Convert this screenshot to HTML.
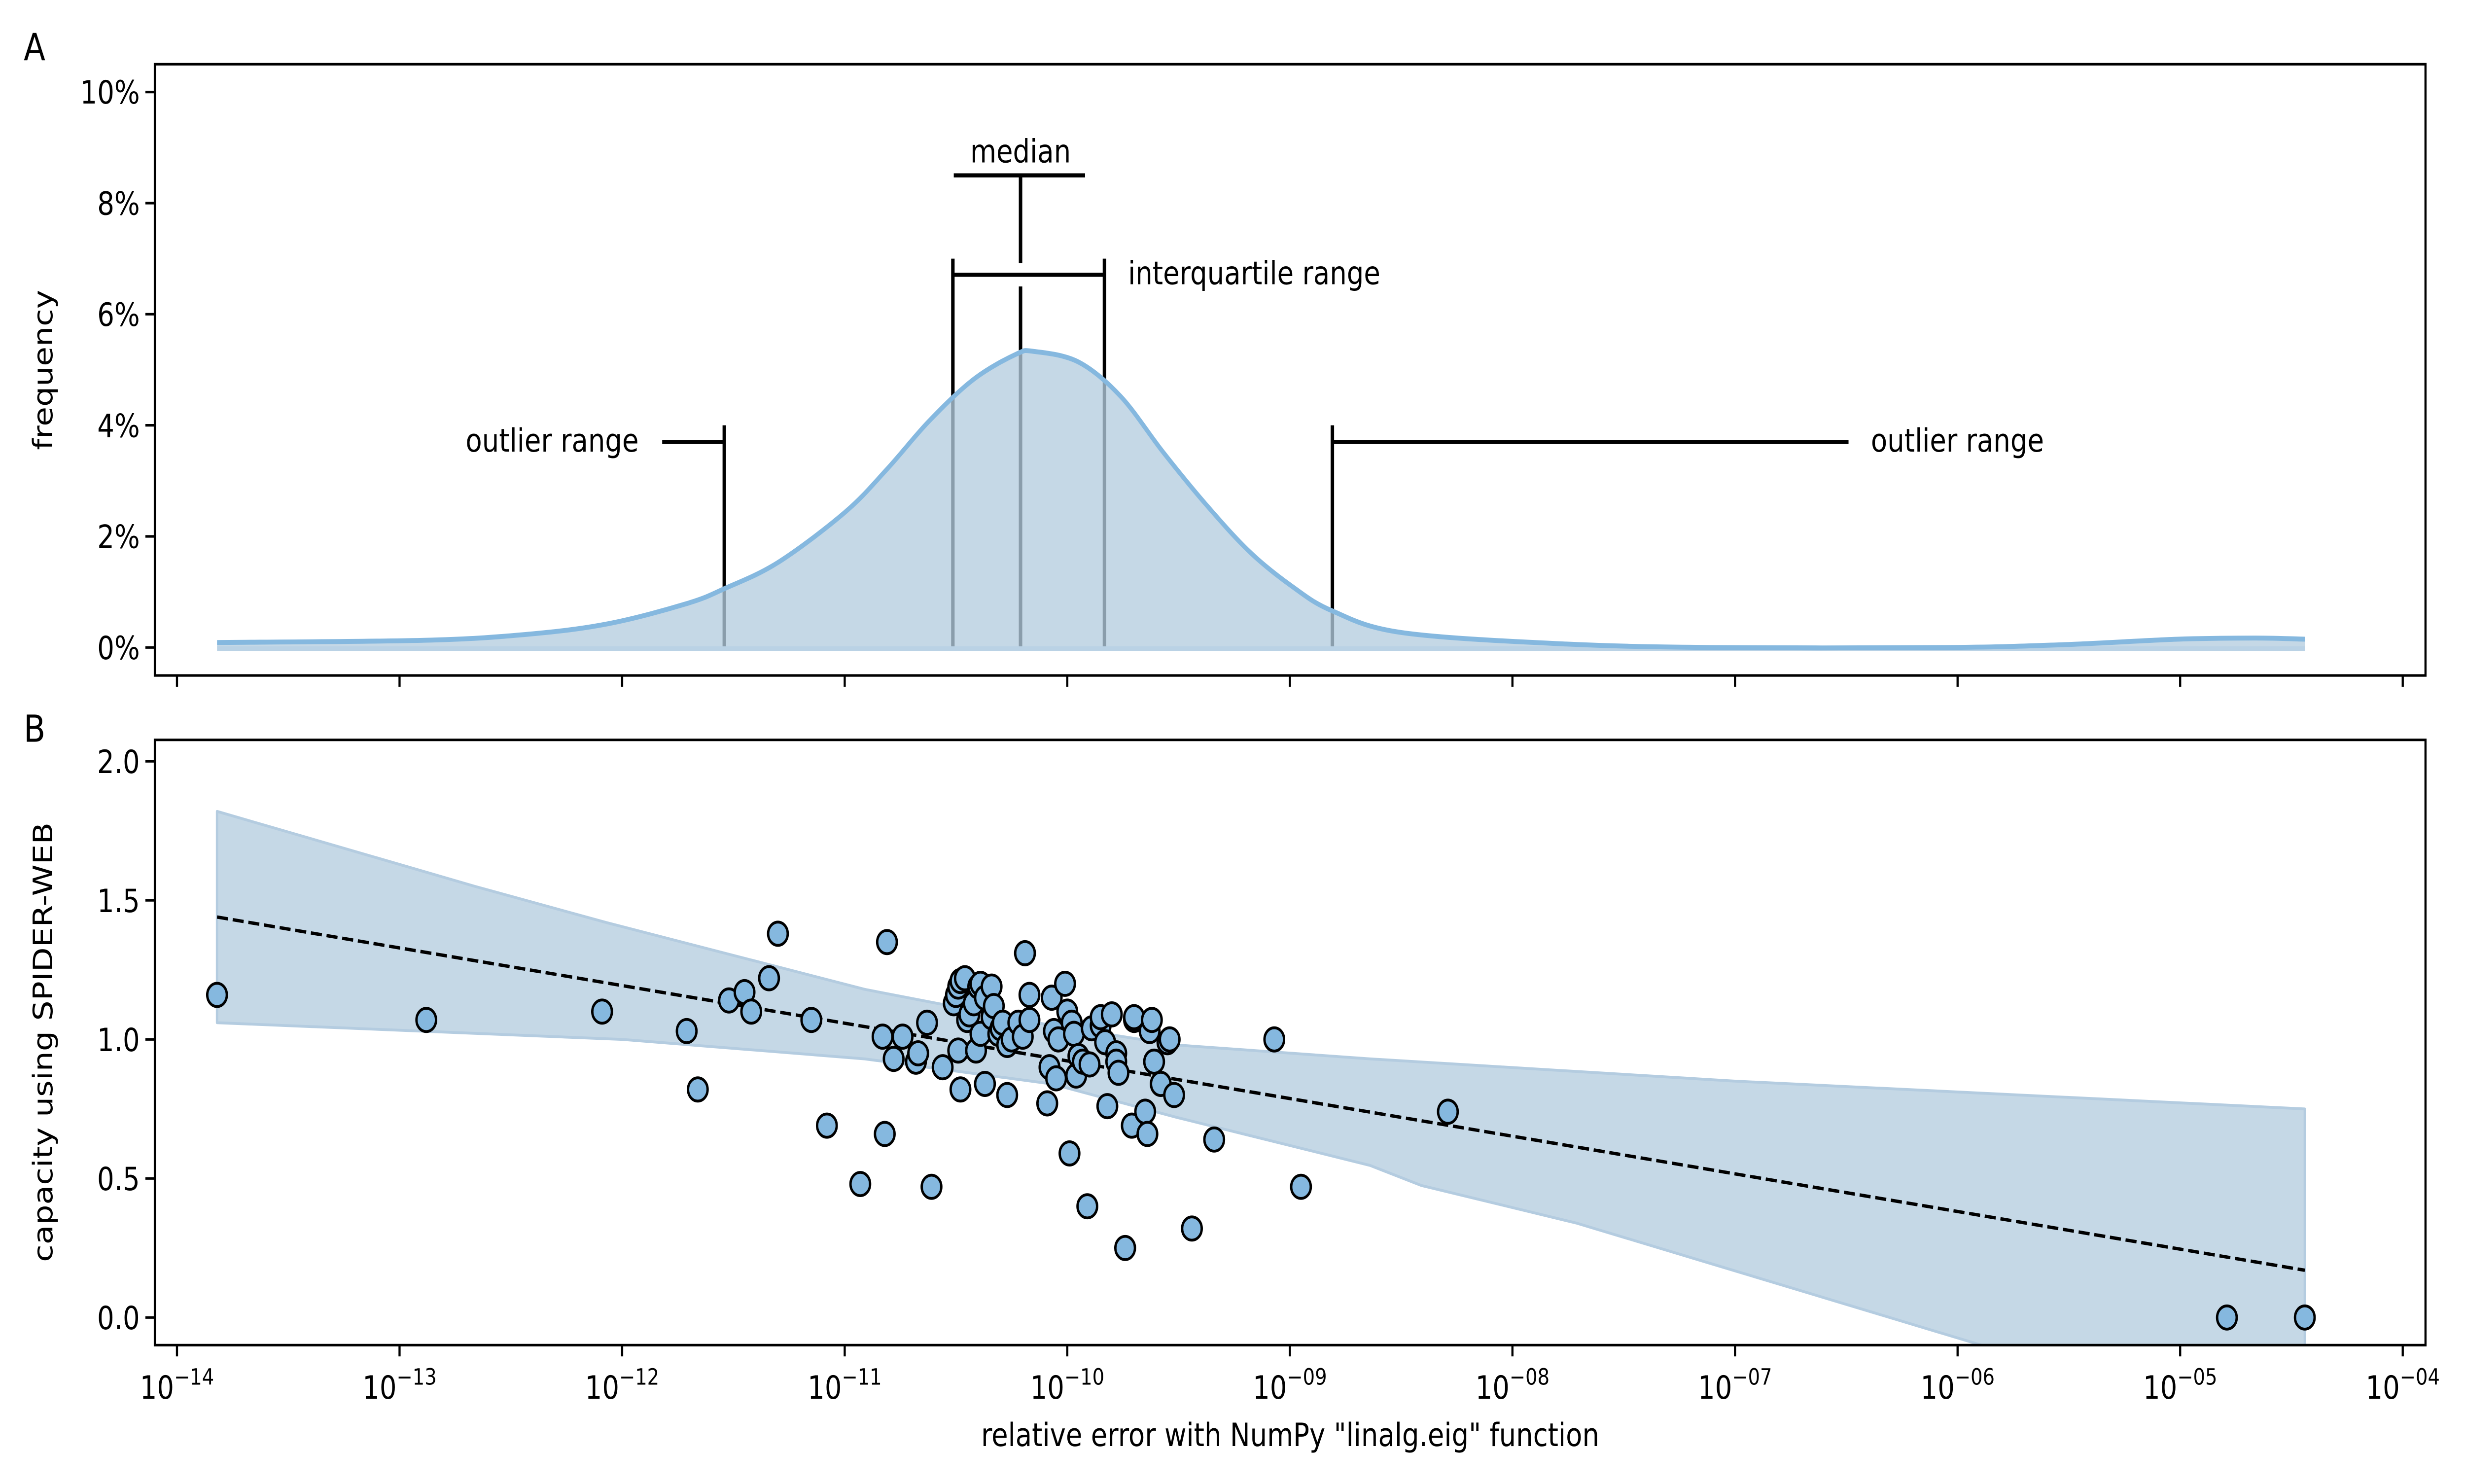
<!DOCTYPE html>
<html><head><meta charset="utf-8"><style>
html,body{margin:0;padding:0;background:#fff;width:100%;height:100%;overflow:hidden;}
svg{display:block;position:fixed;left:0;top:0;width:100vw;height:100vh;font-family:"DejaVu Sans","Liberation Sans",sans-serif;}
</style></head><body>
<svg id="fig" xmlns="http://www.w3.org/2000/svg" viewBox="0 0 1560 790.25" preserveAspectRatio="none">
<rect x="0" y="0" width="1560" height="790.25" fill="#fff"/>
<defs>
<clipPath id="clipB"><rect x="98" y="394" width="1437" height="322.3"/></clipPath>
</defs>
<g id="panelA"></g>
<g id="panelB"></g>
<text x="15" y="32" font-size="20">A</text>
<text x="15" y="395" font-size="20">B</text>
<text transform="translate(33,197) rotate(-90)" text-anchor="middle" font-size="17">frequency</text>
<text transform="translate(33,555) rotate(-90)" text-anchor="middle" font-size="17">capacity using SPIDER-WEB</text>
<text x="816.5" y="770" text-anchor="middle" font-size="17">relative error with NumPy "linalg.eig" function</text>
</svg>
<script>
// ---- data ----
const xTickExps = [-14,-13,-12,-11,-10,-9,-8,-7,-6,-5,-4];
const xTickLabels = ["\u221214","\u221213","\u221212","\u221211","\u221210","\u221209","\u221208","\u221207","\u221206","\u221205","\u221204"];
const yTicksA = [0,2,4,6,8,10];
const yTicksB = [0,0.5,1.0,1.5,2.0];
const yTickLabelsB = ["0.0","0.5","1.0","1.5","2.0"];
const densityLog = [-13.82,-12.89,-12.42,-12.06,-11.71,-11.54,-11.30,-11.0,-10.81,-10.62,-10.42,-10.23,-10.15,-9.95,-9.76,-9.57,-9.38,-9.18,-8.99,-8.81,-8.5,-7.8,-7.11,-6.06,-5.53,-5.01,-4.66,-4.44];
const densityPct = [0.09,0.13,0.24,0.43,0.79,1.06,1.53,2.43,3.21,4.08,4.83,5.28,5.33,5.14,4.52,3.52,2.59,1.72,1.10,0.66,0.27,0.07,0.0,0.0,0.05,0.15,0.17,0.15];
const medianLog = -10.21;
const iqrLog = [-10.514,-9.833];
const outlierLog = [-11.541,-8.809];
const pointLog = [-13.82,-12.88,-12.09,-11.71,-11.66,-11.52,-11.45,-11.42,-11.34,-11.30,-11.15,-11.08,-10.93,-10.83,-10.82,-10.81,-10.78,-10.74,-10.68,-10.67,-10.63,-10.61,-10.56,-10.51,-10.50,-10.49,-10.49,-10.48,-10.48,-10.46,-10.45,-10.44,-10.42,-10.41,-10.40,-10.39,-10.39,-10.37,-10.37,-10.34,-10.34,-10.33,-10.31,-10.30,-10.29,-10.27,-10.27,-10.25,-10.22,-10.20,-10.19,-10.17,-10.17,-10.09,-10.08,-10.07,-10.06,-10.05,-10.04,-10.01,-10.00,-9.99,-9.98,-9.97,-9.96,-9.95,-9.93,-9.91,-9.90,-9.89,-9.85,-9.85,-9.83,-9.82,-9.80,-9.78,-9.78,-9.77,-9.74,-9.71,-9.70,-9.70,-9.65,-9.64,-9.63,-9.62,-9.61,-9.58,-9.55,-9.54,-9.52,-9.44,-9.34,-9.07,-8.95,-8.29,-4.79,-4.44];
const pointCap = [1.16,1.07,1.10,1.03,0.82,1.14,1.17,1.10,1.22,1.38,1.07,0.69,0.48,1.01,0.66,1.35,0.93,1.01,0.92,0.95,1.06,0.47,0.90,1.13,1.16,1.19,0.96,1.21,0.82,1.22,1.07,1.09,1.13,0.96,1.19,1.20,1.02,0.84,1.15,1.19,1.08,1.12,1.02,1.04,1.06,0.98,0.80,1.00,1.06,1.01,1.31,1.16,1.07,0.77,0.90,1.15,1.03,0.86,1.00,1.20,1.10,0.59,1.06,1.02,0.87,0.94,0.92,0.40,0.91,1.04,1.05,1.08,0.99,0.76,1.09,0.95,0.92,0.88,0.25,0.69,1.07,1.08,0.74,0.66,1.03,1.07,0.92,0.84,0.99,1.00,0.80,0.32,0.64,1.00,0.47,0.74,0.00,0.00];
const regLog = [-13.82,-4.44];
const regCap = [1.44,0.17];
const bandUpperLog = [-13.82,-12.66,-12.07,-10.91,-10.07,-9.51,-8.64,-7.0,-4.44];
const bandUpper = [1.82,1.55,1.42,1.18,1.05,0.98,0.93,0.85,0.75];
const bandLowerLog = [-13.82,-12.0,-10.91,-10.07,-9.51,-8.64,-8.41,-7.71,-5.89,-4.44];
const bandLower = [1.06,1.0,0.93,0.84,0.72,0.547,0.475,0.339,-0.1,-0.45];

// ---- axes ----
const NS = "http://www.w3.org/2000/svg";
const X0 = 112, DEC = 140.86;
function xS(l){ return X0 + (l + 14) * DEC; }
function yA(p){ return 344.8 - 29.58 * p; }
function yB(v){ return 701.6 - 148.1 * v; }
const A = {l:98, r:1535, t:34.2, b:359.7};
const B = {l:98, r:1535, t:394, b:716.3};
function mk(tag, attrs, parent){
  const e = document.createElementNS(NS, tag);
  for (const k in attrs) e.setAttribute(k, attrs[k]);
  parent.appendChild(e);
  return e;
}
const gA = document.getElementById('panelA');
const gB = document.getElementById('panelB');
const BLUE = "#85b8df", FILL = "rgb(180,204,222)";

function smoothPath(pts){
  let d = "M" + pts[0][0] + "," + pts[0][1];
  for (let i = 0; i < pts.length - 1; i++){
    const p0 = pts[Math.max(0,i-1)], p1 = pts[i], p2 = pts[i+1], p3 = pts[Math.min(pts.length-1,i+2)];
    const c1 = [p1[0] + (p2[0]-p0[0])/6, p1[1] + (p2[1]-p0[1])/6];
    const c2 = [p2[0] - (p3[0]-p1[0])/6, p2[1] - (p3[1]-p1[1])/6];
    d += " C" + c1[0] + "," + c1[1] + " " + c2[0] + "," + c2[1] + " " + p2[0] + "," + p2[1];
  }
  return d;
}

// ===== Panel A =====
const annA = mk('g', {}, gA);


function line(x1,y1,x2,y2,parent,w,name){
  const e = mk('line', {x1:x1,y1:y1,x2:x2,y2:y2,stroke:"#000","stroke-width":w||2.2}, parent);
  
  
  return e;
}
line(xS(outlierLog[0]), yA(4.0), xS(outlierLog[0]), yA(0), annA, 2.2, 'outlier-low-line');
line(xS(-11.82), yA(3.7), xS(outlierLog[0]), yA(3.7), annA, 2.2, 'outlier-low-bracket');
line(xS(outlierLog[1]), yA(4.0), xS(outlierLog[1]), yA(0), annA, 2.2, 'outlier-high-line');
line(xS(outlierLog[1]), yA(3.7), xS(-6.49), yA(3.7), annA, 2.2, 'outlier-high-bracket');
line(xS(iqrLog[0]), yA(7.0), xS(iqrLog[0]), yA(0), annA, 2.2, 'iqr-low-line');
line(xS(iqrLog[1]), yA(7.0), xS(iqrLog[1]), yA(0), annA, 2.2, 'iqr-high-line');
line(xS(iqrLog[0]), yA(6.71), xS(iqrLog[1]), yA(6.71), annA, 2.2, 'iqr-bracket');
line(xS(medianLog), yA(6.5), xS(medianLog), yA(0), annA, 2.2, 'median-line');
line(xS(medianLog), yA(8.5), xS(medianLog), yA(6.92), annA, 2.2, 'median-stem');
line(xS(-10.51), yA(8.5), xS(-9.92), yA(8.5), annA, 2.2, 'median-bracket');

const dpts = densityLog.map((l,i)=>[xS(l), yA(densityPct[i])]);
const curveD = smoothPath(dpts);
const fillD = curveD + " L" + xS(densityLog[densityLog.length-1]) + "," + yA(0) + " L" + xS(densityLog[0]) + "," + yA(0) + " Z";
const fillA = mk('path', {d: fillD, fill: FILL, "fill-opacity": 0.77, stroke: "none"}, gA);


const baseA = mk('line', {x1: xS(densityLog[0]), y1: yA(0)+0.6, x2: xS(densityLog[densityLog.length-1]), y2: yA(0)+0.6, stroke: "#bad2e5", "stroke-width": 2.4}, gA);


const curveA = mk('path', {d: curveD, fill: "none", stroke: BLUE, "stroke-width": 2.6, "stroke-linejoin": "round"}, gA);



function label(x,y,txt,anchor,parent,name){
  const t = mk('text', {x:x, y:y, "font-size":17, "text-anchor":anchor||"start"}, parent);
  t.textContent = txt;
  
  
  return t;
}
label(xS(medianLog), 86.5, "median", "middle", gA, 'median-label');
label(713.9, 151.3, "interquartile range", "start", gA, 'iqr-label');
label(404.2, 240.5, "outlier range", "end", gA, 'outlier-low-label');
label(1184, 240.5, "outlier range", "start", gA, 'outlier-high-label');

const frameA = mk('rect', {x:A.l, y:A.t, width:A.r-A.l, height:A.b-A.t, fill:"none", stroke:"#000", "stroke-width":1.36}, gA);


yTicksA.forEach((v)=>{
  const y = yA(v);
  const tk = mk('line', {x1:A.l-6, y1:y, x2:A.l, y2:y, stroke:"#000", "stroke-width":1.36}, gA);
  
  
  const t = mk('text', {x:A.l-9.5, y:y+6.2, "font-size":17, "text-anchor":"end"}, gA);
  t.textContent = v + "%";
  
  
});
xTickExps.forEach((e)=>{
  const x = xS(e);
  const tk = mk('line', {x1:x, y1:A.b, x2:x, y2:A.b+6, stroke:"#000", "stroke-width":1.36}, gA);
  
  
});

// ===== Panel B =====
const clipG = mk('g', {"clip-path":"url(#clipB)"}, gB);


let bd = "";
bandUpperLog.forEach((l,i)=>{ bd += (i?" L":"M") + xS(l) + "," + yB(bandUpper[i]); });
for (let i = bandLowerLog.length-1; i >= 0; i--){ bd += " L" + xS(bandLowerLog[i]) + "," + yB(bandLower[i]); }
bd += " Z";
const band = mk('path', {d: bd, fill: FILL, "fill-opacity": 0.77, stroke: "#b4cce0", "stroke-width": 1.5, "stroke-linejoin":"round"}, clipG);


const reg = mk('line', {x1: xS(regLog[0]), y1: yB(regCap[0]), x2: xS(regLog[1]), y2: yB(regCap[1]), stroke:"#000", "stroke-width":1.8, "stroke-dasharray":"7 3"}, clipG);


pointLog.forEach((l,i)=>{
  const c = mk('circle', {cx: xS(l), cy: yB(pointCap[i]), r: 6.2, fill: BLUE, stroke: "#000", "stroke-width": 1.5}, clipG);
  
  
});
const frameB = mk('rect', {x:B.l, y:B.t, width:B.r-B.l, height:B.b-B.t, fill:"none", stroke:"#000", "stroke-width":1.36}, gB);


yTicksB.forEach((v,i)=>{
  const y = yB(v);
  const tk = mk('line', {x1:B.l-6, y1:y, x2:B.l, y2:y, stroke:"#000", "stroke-width":1.36}, gB);
  
  
  const t = mk('text', {x:B.l-9.5, y:y+6.2, "font-size":17, "text-anchor":"end"}, gB);
  t.textContent = yTickLabelsB[i];
  
  
});
xTickExps.forEach((e,i)=>{
  const x = xS(e);
  const tk = mk('line', {x1:x, y1:B.b, x2:x, y2:B.b+6, stroke:"#000", "stroke-width":1.36}, gB);
  
  
  const t = mk('text', {x:x, y:744.8, "font-size":17, "text-anchor":"middle"}, gB);
  
  
  t.appendChild(document.createTextNode("10"));
  const s = mk('tspan', {dy:-7.5, "font-size":12}, t);
  s.textContent = xTickLabels[i];
});
</script>
</body></html>
